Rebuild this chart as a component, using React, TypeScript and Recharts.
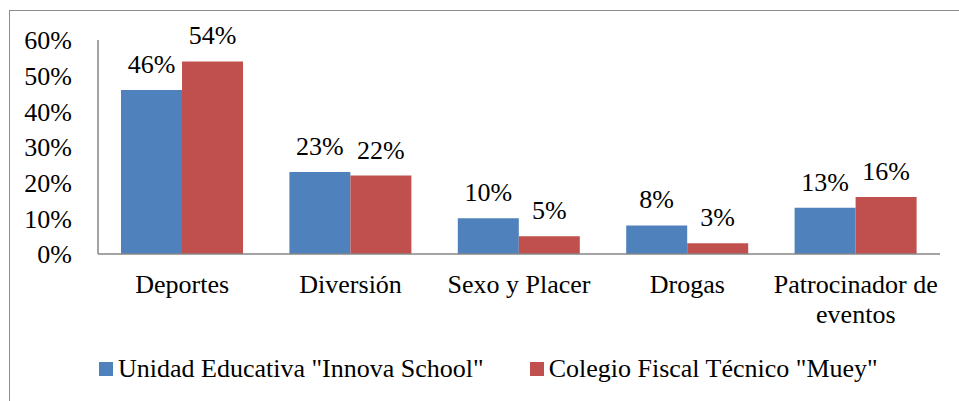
import React from 'react';
import { BarChart, Bar, XAxis, YAxis, LabelList } from 'recharts';

const categories = ['Deportes', 'Diversión', 'Sexo y Placer', 'Drogas', 'Patrocinador de\neventos'];
const innovaValues = [46, 23, 10, 8, 13];
const mueyValues = [54, 22, 5, 3, 16];
const yTicks = [0, 10, 20, 30, 40, 50, 60];

const series = [
  { key: 'innova', name: 'Unidad Educativa "Innova School"', color: '#4F81BD' },
  { key: 'muey', name: 'Colegio Fiscal Técnico "Muey"', color: '#C0504D' },
];

const data = categories.map((name, i) => ({
  name,
  innova: innovaValues[i],
  muey: mueyValues[i],
}));

const FONT = '"Liberation Serif", "Times New Roman", Tinos, Times, serif';
const FS = 26;

// category labels can hold a "\n" for a second line
const CategoryTick = (props: any) => {
  const { x, y, payload } = props;
  const lines = String(payload.value).split('\n');
  return (
    <text x={x} y={y + 39} textAnchor="middle" fill="#000" fontSize={FS} style={{ fontFamily: FONT }}>
      {lines.map((line, i) => (
        <tspan key={i} x={x} dy={i === 0 ? 0 : 29.5}>
          {line}
        </tspan>
      ))}
    </text>
  );
};

const pct = (v: number) => `${v}%`;

export default function App() {
  return (
    <div
      style={{
        position: 'absolute',
        left: 0,
        top: 0,
        width: 959,
        height: 401,
        overflow: 'hidden',
        background: '#fff',
        fontFamily: FONT,
      }}
    >
      <div
        style={{
          position: 'absolute',
          left: 9,
          top: 10,
          width: 1000,
          height: 500,
          border: '1px solid #8c8c8c',
        }}
      />
      <div style={{ position: 'absolute', left: 0, top: 0 }}>
        <BarChart
          width={959}
          height={401}
          data={data}
          margin={{ top: 40, right: 19, bottom: 0, left: 0 }}
          barGap={0}
          barSize={61}
          style={{ fontFamily: FONT }}
        >
          <XAxis
            dataKey="name"
            height={147}
            tickLine={false}
            tickSize={0}
            tickMargin={0}
            axisLine={{ stroke: '#868686', strokeWidth: 1.5 }}
            tick={<CategoryTick />}
            interval={0}
          />
          <YAxis
            width={98}
            domain={[0, 60]}
            ticks={yTicks}
            tickFormatter={pct}
            tickLine={false}
            tickSize={0}
            tickMargin={26}
            axisLine={{ stroke: '#868686', strokeWidth: 1.5 }}
            tick={{ fill: '#000', fontSize: FS, style: { fontFamily: FONT } }}
          />
          {series.map((s) => (
            <Bar key={s.key} dataKey={s.key} name={s.name} fill={s.color} isAnimationActive={false}>
              <LabelList
                dataKey={s.key}
                position="top"
                offset={17}
                formatter={(v: any) => pct(v)}
                fill="#000"
                fontSize={FS}
                style={{ fontFamily: FONT }}
              />
            </Bar>
          ))}
        </BarChart>
      </div>
      <div
        style={{
          position: 'absolute',
          left: 99,
          top: 354,
          display: 'flex',
          alignItems: 'center',
          fontSize: FS,
          color: '#000',
          whiteSpace: 'nowrap',
        }}
      >
        {series.map((s, i) => (
          <div
            key={s.key}
            style={{ display: 'flex', alignItems: 'center', marginLeft: i === 0 ? 0 : 46 }}
          >
            <span style={{ width: 14, height: 14, background: s.color, marginRight: 5, display: 'inline-block' }} />
            <span>{s.name}</span>
          </div>
        ))}
      </div>
    </div>
  );
}
